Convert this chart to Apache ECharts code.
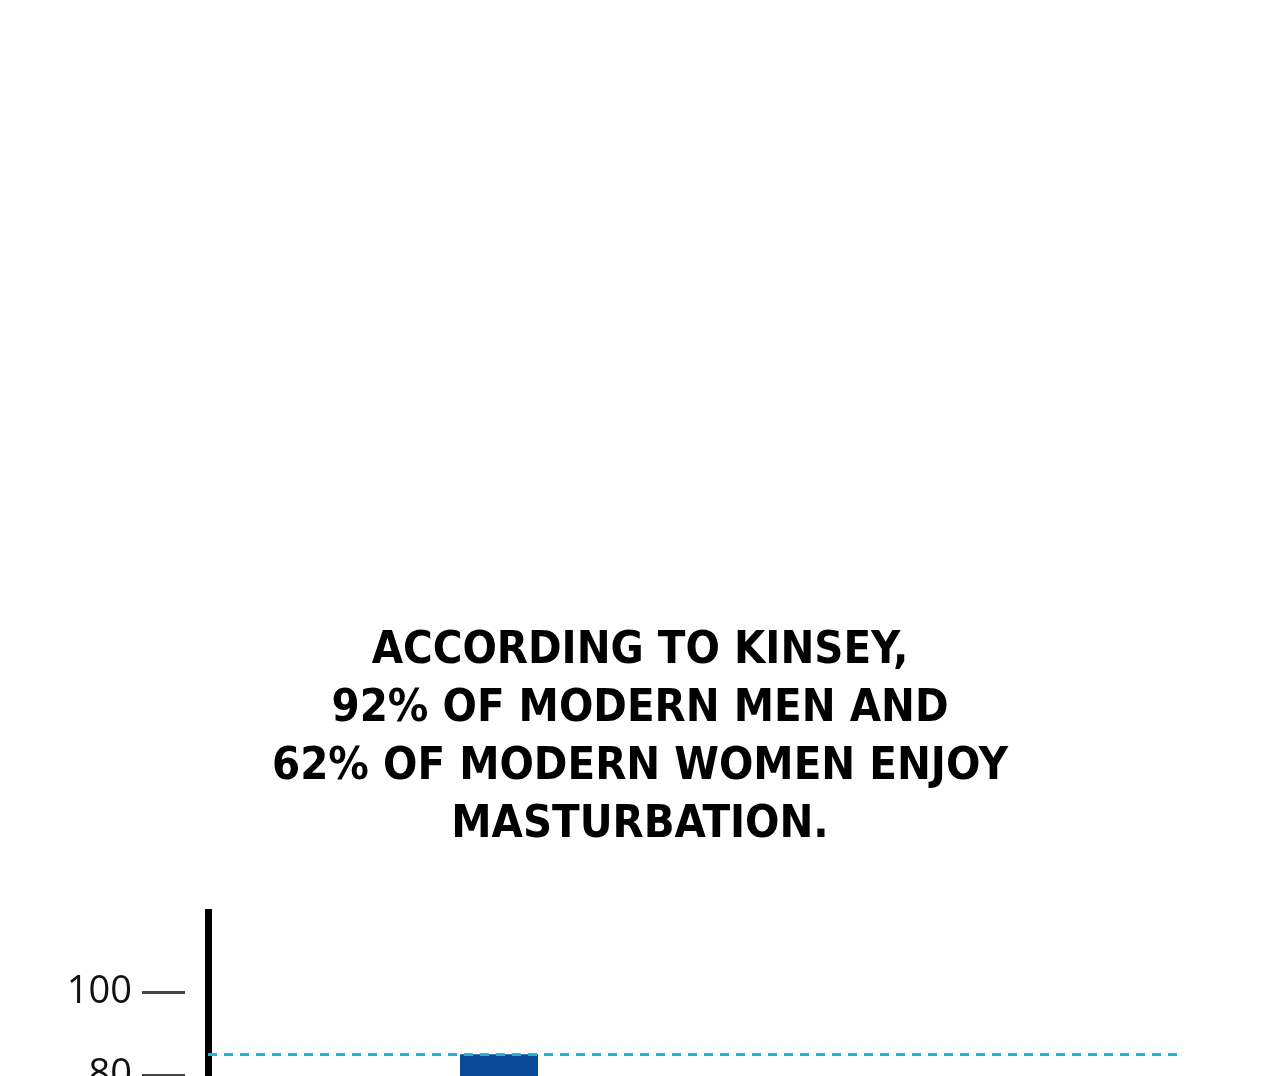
<!DOCTYPE html>
<html>
<head>
<meta charset="utf-8">
<script src="https://cdn.jsdelivr.net/npm/echarts@6/dist/echarts.min.js"></script>
<style>
html,body{margin:0;padding:0;background:#fff;overflow:hidden;}
#chart{width:1280px;height:1076px;}
</style>
</head>
<body>
<div id="chart"></div>
<script>
var titleLines = [
  'ACCORDING TO KINSEY,',
  '92% OF MODERN MEN AND',
  '62% OF MODERN WOMEN ENJOY',
  'MASTURBATION.'
];
var categories = ['Kinsey'];
var menValues = [85];
var womenValues = [62];
var tickValues = [0, 20, 40, 60, 80, 100];

var chart = echarts.init(document.getElementById('chart'));
chart.setOption({
  backgroundColor: '#ffffff',
  animation: false,
  title: {
    text: titleLines.join('\n'),
    left: 'center',
    top: 617,
    textStyle: {
      fontFamily: '"Liberation Sans Narrow", "DejaVu Sans Condensed", sans-serif',
      fontWeight: 'bold',
      fontSize: 45,
      lineHeight: 58,
      color: '#000'
    }
  },
  grid: {
    left: 208,
    right: 100,
    top: 909,
    bottom: -331,
    outerBoundsMode: 'none'
  },
  xAxis: {
    type: 'category',
    data: categories,
    show: false
  },
  yAxis: [
    {
      type: 'value',
      min: 0,
      max: 120,
      interval: 20,
      position: 'left',
      axisLine: {show: true, lineStyle: {color: '#000', width: 7, cap: 'butt'}},
      axisTick: {show: false},
      axisLabel: {show: false},
      splitLine: {show: false}
    },
    {
      type: 'value',
      min: 0,
      max: 120,
      interval: 20,
      position: 'left',
      offset: 23,
      axisLine: {show: false},
      axisTick: {
        show: true,
        length: 43,
        customValues: tickValues,
        lineStyle: {color: '#444', width: 3}
      },
      axisLabel: {
        show: true,
        customValues: tickValues,
        margin: 53,
        fontSize: 38,
        fontFamily: '"Open Sans", "Noto Sans", sans-serif',
        color: '#111'
      },
      splitLine: {show: false}
    }
  ],
  series: [
    {
      name: 'Men',
      type: 'bar',
      data: menValues,
      barWidth: 78,
      barGap: '400%',
      itemStyle: {color: '#0b4a98'},
      markLine: {
        silent: true,
        symbol: 'none',
        label: {show: false},
        lineStyle: {color: '#22b2da', width: 3, type: [9, 7]},
        data: [{yAxis: menValues[0]}]
      }
    },
    {
      name: 'Women',
      type: 'bar',
      data: womenValues,
      barWidth: 78,
      itemStyle: {color: '#d6589a'}
    }
  ]
});
</script>
</body>
</html>
